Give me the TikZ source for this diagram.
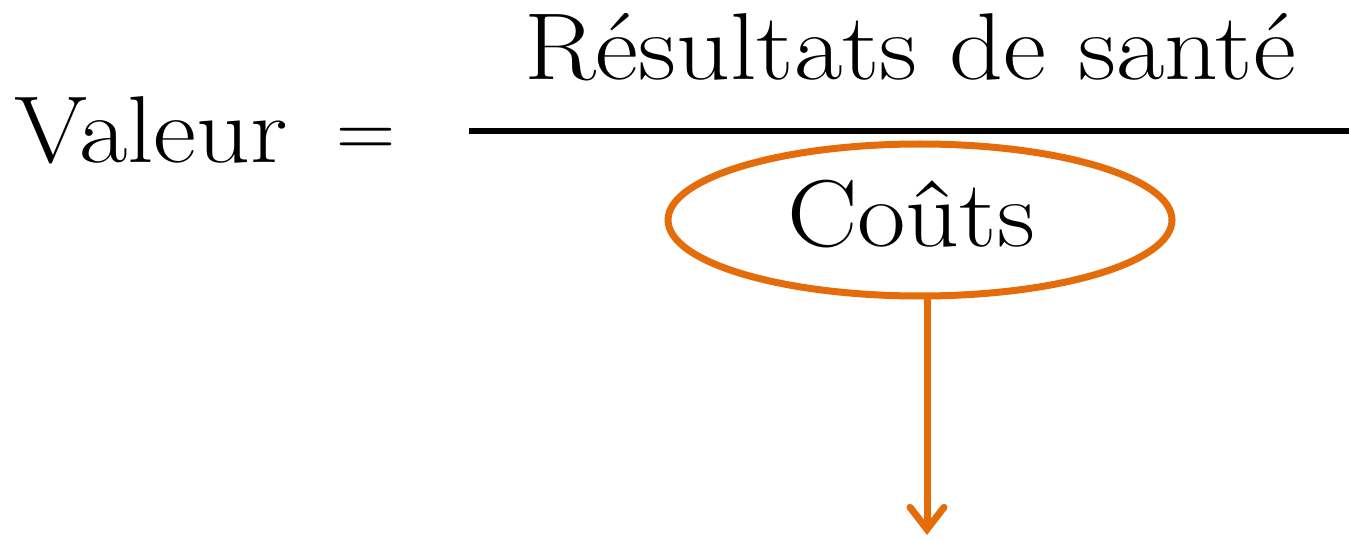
\documentclass[tikz,border=0pt]{standalone}
\usetikzlibrary{arrows.meta}
\definecolor{accorange}{HTML}{E46C0A}
\tikzset{
  bigtext/.style={inner sep=0pt, anchor=base, font=\fontsize{95}{100}\selectfont},
  orangeline/.style={draw=accorange, line width=7pt},
}
\newcommand{\wide}[1]{\scalebox{1.11}[1]{#1}}
\begin{document}
\begin{tikzpicture}[x=1pt,y=-1pt]
\useasboundingbox (0,0) rectangle (1349,540);
\node[bigtext] (val) at (151,163) {\wide{Valeur}};
\node[bigtext, font=\fontsize{82}{90}\selectfont] (eq) at (366,158) {=};
\node[bigtext] (num) at (910,80) {\wide{Résultats de santé}};
\coordinate (barL) at (469,131);
\coordinate (barR) at (1349,131);
\draw[line width=6pt] (barL) -- (barR);
\draw[orangeline] (920,220) ellipse [x radius=252, y radius=76];
\node[bigtext] (den) at (911,247) {\wide{Coûts}};
\coordinate (ellbot) at (927,296);
\coordinate (tip) at (927,535);
\draw[orangeline, -{Straight Barb[length=22pt, width=34pt, line cap=round, line width=7pt]}] (ellbot) -- (tip);
\end{tikzpicture}
\end{document}
